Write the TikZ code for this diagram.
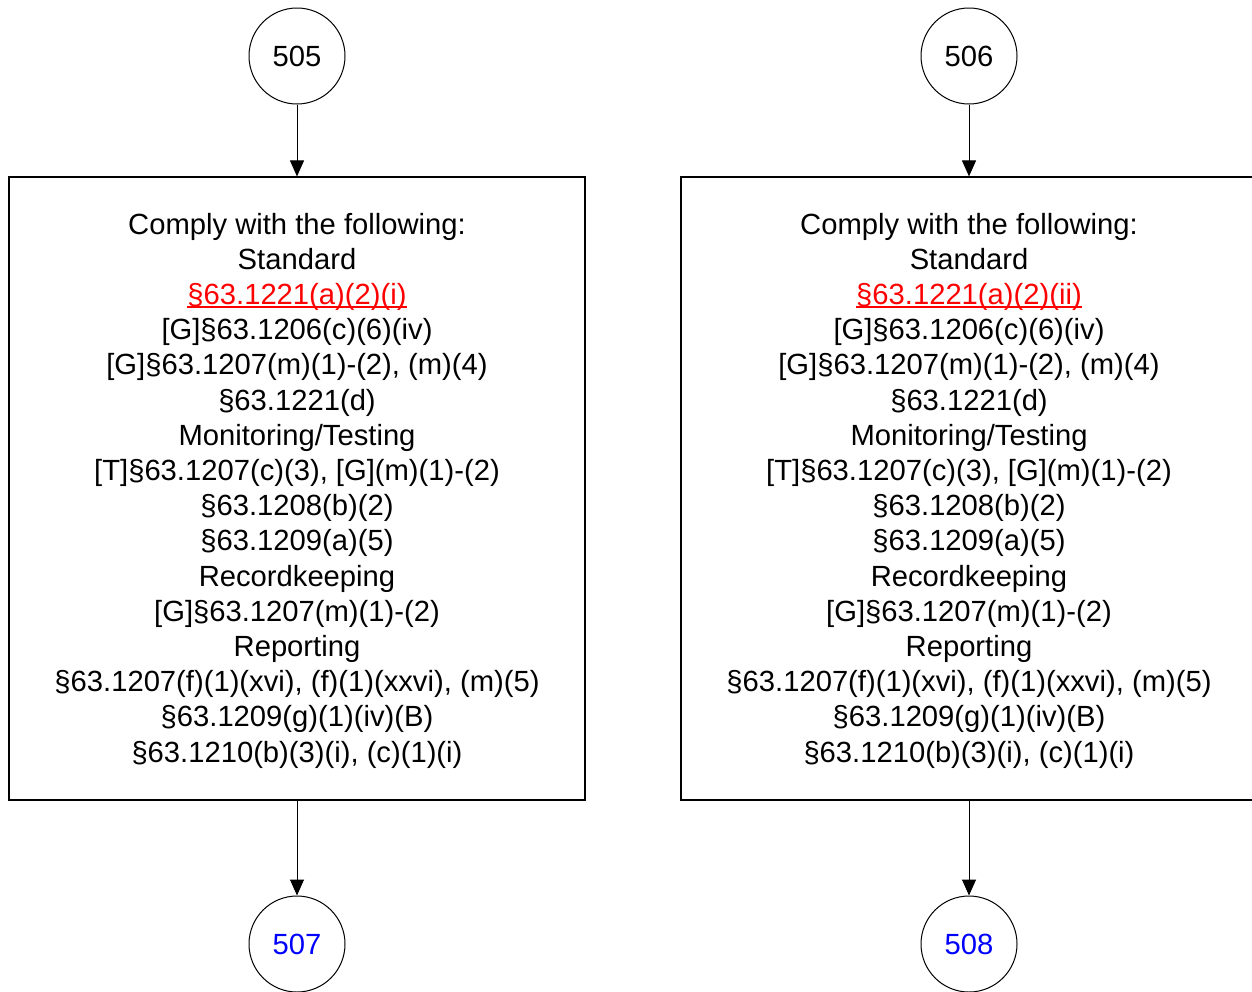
\documentclass[tikz,border=0pt]{standalone}
\usepackage{fontspec}
\setmainfont{Liberation Sans}
\usetikzlibrary{arrows.meta}
\newcommand{\redul}[1]{{\color{red}\setbox0\hbox{#1}\rlap{\rule[-1.7pt]{\wd0}{0.8pt}}\box0}}
\newcommand{\ruleblock}[1]{Comply with the following:\\Standard\\\redul{#1}\\{}[G]§63.1206(c)(6)(iv)\\{}[G]§63.1207(m)(1)-(2), (m)(4)\\§63.1221(d)\\Monitoring/Testing\\{}[T]§63.1207(c)(3), [G](m)(1)-(2)\\§63.1208(b)(2)\\§63.1209(a)(5)\\Recordkeeping\\{}[G]§63.1207(m)(1)-(2)\\Reporting\\§63.1207(f)(1)(xvi), (f)(1)(xxvi), (m)(5)\\§63.1209(g)(1)(iv)(B)\\§63.1210(b)(3)(i), (c)(1)(i)}
\tikzset{
  txt/.style={font=\fontsize{14.6}{17.6}\selectfont},
  conn/.style={circle, draw, line width=0.5pt, minimum size=48pt, inner sep=0pt, txt},
  rulebox/.style={draw, line width=0.6pt, minimum width=288pt, minimum height=311.5pt, inner sep=0pt},
  ruletext/.style={align=center, inner sep=0pt, txt},
  arr/.style={line width=0.5pt, -{Triangle[width=7pt,length=8pt]}}
}
\begin{document}
\begin{tikzpicture}[x=0.5pt,y=-0.5pt]
\clip (0,0) rectangle (1252,991);
\fill[white] (0,0) rectangle (1252,991);
\node[conn] (c505) at (297,56) {505};
\node[conn] (c506) at (969,56) {506};
\node[rulebox] (b1) at (297,488.5) {};
\node[rulebox] (b2) at (969,488.5) {};
\node[ruletext] (t1) at (297,490.5) {\ruleblock{§63.1221(a)(2)(i)}};
\node[ruletext] (t2) at (969,490.5) {\ruleblock{§63.1221(a)(2)(ii)}};
\node[conn, text=blue] (c507) at (297,944) {507};
\node[conn, text=blue] (c508) at (969,944) {508};
\draw[arr] (c505) -- (b1);
\draw[arr] (c506) -- (b2);
\draw[arr] (b1) -- (c507);
\draw[arr] (b2) -- (c508);
\end{tikzpicture}
\end{document}
